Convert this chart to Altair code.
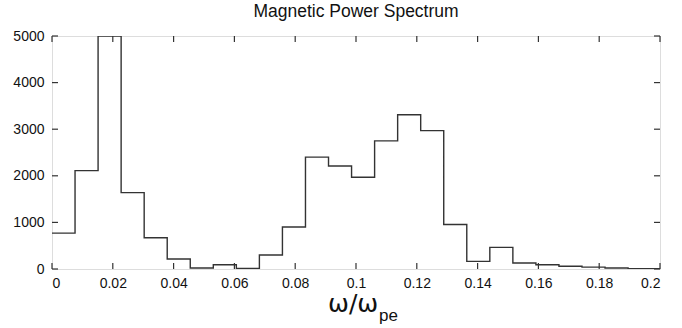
import altair as alt
import pandas as pd

# Histogram bin width (omega/omega_pe) and bin heights
bin_width = 0.00758
power = [770, 2110, 5000, 1640, 670, 214, 20, 90, 10, 300, 900,
         2400, 2210, 1970, 2750, 3310, 2970, 955, 163, 463, 128,
         90, 60, 40, 20, 5, 5]
x_ticks = [0, 0.02, 0.04, 0.06, 0.08, 0.1, 0.12, 0.14, 0.16, 0.18, 0.2]
y_ticks = [0, 1000, 2000, 3000, 4000, 5000]

edges = [i * bin_width for i in range(len(power) + 1)]
vals = power + [power[-1]]
df = pd.DataFrame({"x": edges, "y": vals})
xt = pd.DataFrame({"t": x_ticks})
yt = pd.DataFrame({"t": y_ticks})

W, H = 608, 233
FONT = "Liberation Sans"
xscale = alt.Scale(domain=[0, 0.2], nice=False, zero=False)
yscale = alt.Scale(domain=[0, 5000], nice=False)

line = alt.Chart(df).mark_line(
    interpolate="step-after", color="#333333", strokeWidth=1.4, clip=True
).encode(
    x=alt.X("x:Q", scale=xscale,
            axis=alt.Axis(values=x_ticks, format="~g", title=None, ticks=False,
                          domain=False, grid=False, labelPadding=7,
                          labelFontSize=14, labelFont=FONT, labelColor="#111")),
    y=alt.Y("y:Q", scale=yscale,
            axis=alt.Axis(values=y_ticks, format="d", title=None, ticks=False,
                          domain=False, grid=False, labelPadding=8,
                          labelFontSize=14, labelFont=FONT, labelColor="#111")),
)

tick_len = 6
bottom_ticks = alt.Chart(xt).mark_rule(color="#333", strokeWidth=1.2).encode(
    x=alt.X("t:Q", scale=xscale), y=alt.value(H), y2=alt.value(H - tick_len))
top_ticks = alt.Chart(xt).mark_rule(color="#333", strokeWidth=1.2).encode(
    x=alt.X("t:Q", scale=xscale), y=alt.value(0), y2=alt.value(tick_len))
left_ticks = alt.Chart(yt).mark_rule(color="#333", strokeWidth=1.2).encode(
    y=alt.Y("t:Q", scale=yscale), x=alt.value(0), x2=alt.value(tick_len))
right_ticks = alt.Chart(yt).mark_rule(color="#333", strokeWidth=1.2).encode(
    y=alt.Y("t:Q", scale=yscale), x=alt.value(W), x2=alt.value(W - tick_len))

xtitle_main = alt.Chart(pd.DataFrame({"s": ["ω/ω"]})).mark_text(
    font="DejaVu Sans", fontSize=25, align="left", baseline="alphabetic", color="#111"
).encode(text="s:N", x=alt.value(276), y=alt.value(276))
xtitle_sub = alt.Chart(pd.DataFrame({"s": ["pe"]})).mark_text(
    font=FONT, fontSize=17, align="left", baseline="alphabetic", color="#111"
).encode(text="s:N", x=alt.value(327), y=alt.value(285))

chart = alt.layer(
    line, bottom_ticks, top_ticks, left_ticks, right_ticks, xtitle_main, xtitle_sub
).properties(
    width=W, height=H,
    title=alt.TitleParams("Magnetic Power Spectrum", fontSize=17.5, font=FONT,
                          fontWeight="normal", color="#111", offset=9),
    autosize=alt.AutoSizeParams(type="none"),
    padding={"left": 52, "top": 36, "right": 22, "bottom": 59},
).configure_view(
    stroke="#222", strokeWidth=1.6
).configure(background="white")

chart.save("out.html", embed_options={"renderer": "svg", "actions": False})
